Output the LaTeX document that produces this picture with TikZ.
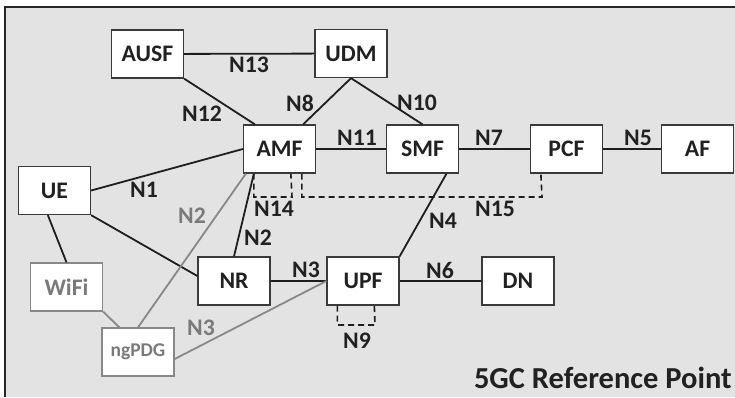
\documentclass[tikz,border=0pt]{standalone}
\usepackage{fontspec}
\setmainfont{Carlito}
\usetikzlibrary{calc}
\definecolor{bgc}{HTML}{E3E3E3}
\definecolor{boxline}{HTML}{3A3A3A}
\definecolor{linec}{HTML}{1E1E1E}
\definecolor{grayc}{HTML}{888888}
\definecolor{graytext}{HTML}{7A7A7A}
\tikzset{
  nf/.style={draw=boxline, line width=1.3pt, fill=white, minimum width=72pt, minimum height=48pt, inner sep=0pt, font=\fontsize{23.7}{25}\selectfont\bfseries, text=black!87},
  gnf/.style={nf, draw=grayc, text=graytext},
  conn/.style={draw=linec, line width=1.8pt},
  gconn/.style={draw=grayc, line width=1.8pt},
  dconn/.style={draw=linec, line width=1.6pt, dash pattern=on 6pt off 4pt},
  lab/.style={font=\fontsize{23.7}{25}\selectfont\bfseries, text=black!87, inner sep=0pt},
  glab/.style={lab, text=graytext}
}
\begin{document}
\begin{tikzpicture}[x=1pt,y=-1pt]
\useasboundingbox (0,0) rectangle (735,397);
\fill[bgc] (5,7) rectangle (735,397);
\draw[line width=2.2pt, black!85] (5,397) -- (5,7) -- (735,7);

\node[nf] (AUSF) at (147.5,54) {AUSF};
\node[nf] (UDM) at (351,53.5) {UDM};
\node[nf] (AMF) at (279.5,149) {AMF};
\node[nf] (SMF) at (422.5,149) {SMF};
\node[nf] (PCF) at (566.5,149) {PCF};
\node[nf] (AF) at (697.5,149) {AF};
\node[nf] (UE) at (54.5,190.5) {UE};
\node[gnf] (WiFi) at (66.5,287) {WiFi};
\node[gnf, font=\fontsize{19.5}{21}\selectfont\bfseries] (ngPDG) at (138,352) {ngPDG};
\node[nf] (NR) at (234,281) {NR};
\node[nf] (UPF) at (363,281) {UPF};
\node[nf] (DN) at (518,281) {DN};

% solid connectors
\draw[conn] (AUSF) -- (UDM);
\draw[conn] (AUSF.south east) -- ($(AMF.north west)+(12,0)$);
\draw[conn] (UDM.south) -- ($(AMF.north east)+(-13,0)$);
\draw[conn] (UDM.south) -- (SMF.north);
\draw[conn] (AMF) -- (SMF);
\draw[conn] (SMF) -- (PCF);
\draw[conn] (PCF) -- (AF);
\draw[conn] (UE.east) -- (AMF.west);
\draw[conn] (UE.south east) -- ($(NR.west)+(0,-5)$);
\draw[conn] ($(UE.south west)+(30,0)$) -- (WiFi.north);
\draw[gconn] (WiFi.south east) -- ($(ngPDG.north west)+(18,0)$);
\draw[gconn] (ngPDG.north) -- ($(AMF.south west)+(3,0)$);
\draw[conn] ($(AMF.south west)+(11,0)$) -- (NR.north);
\draw[conn] (NR) -- (UPF);
\draw[gconn] ($(ngPDG.east)+(0,7)$) -- (UPF.west);
\draw[conn] ($(SMF.south)+(24,0)$) -- (UPF.north east);
\draw[conn] (UPF) -- (DN);

% dashed reference points
\draw[dconn] ($(AMF.south west)+(11,0)$) |- (292,197) -- ($(AMF.south west)+(48,0)$);
\draw[dconn] ($(AMF.south west)+(59,0)$) |- (542,197) -- ($(PCF.south west)+(11,0)$);
\draw[dconn] ($(UPF.south west)+(11,0)$) |- (375,325) -- ($(UPF.south west)+(48,0)$);

% labels
\node[lab] (lN13) at (249,65) {N13};
\node[lab] (lN12) at (202,114) {N12};
\node[lab] (lN8) at (300,103) {N8};
\node[lab] (lN10) at (417,103) {N10};
\node[lab] (lN11) at (357,138) {N11};
\node[lab] (lN7) at (489,138) {N7};
\node[lab] (lN5) at (638,138) {N5};
\node[lab] (lN1) at (144,190) {N1};
\node[glab] (lN2g) at (192,216) {N2};
\node[lab] (lN14) at (274,209) {N14};
\node[lab] (lN2) at (258,238) {N2};
\node[lab] (lN3) at (306,270) {N3};
\node[glab] (lN3g) at (201,328) {N3};
\node[lab] (lN4) at (443,221) {N4};
\node[lab] (lN15) at (495,209) {N15};
\node[lab] (lN6) at (440,270) {N6};
\node[lab] (lN9) at (357,341) {N9};

\node[anchor=base east, inner sep=0pt, font=\fontsize{30.5}{32}\selectfont\bfseries, text=black!87] (title) at (732,388) {5GC Reference Point};
\end{tikzpicture}
\end{document}
